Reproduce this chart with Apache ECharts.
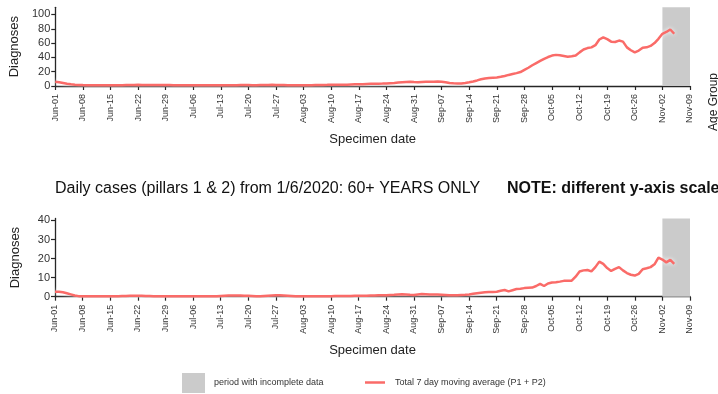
<!DOCTYPE html>
<html>
<head>
<meta charset="utf-8">
<script src="https://cdn.jsdelivr.net/npm/echarts@6/dist/echarts.min.js"></script>
<style>
  html, body { margin: 0; padding: 0; background: #fff; }
  #chart { width: 718px; height: 394px; }
</style>
</head>
<body>
<div id="chart"></div>
<script>
// Specimen dates shown on the axes: 1 June to 9 November 2020, one per day
const monthNames = ['Jan','Feb','Mar','Apr','May','Jun','Jul','Aug','Sep','Oct','Nov','Dec'];
const categories = [];
for (let t = Date.UTC(2020, 5, 1); t <= Date.UTC(2020, 10, 9); t += 86400000) {
  const d = new Date(t);
  categories.push(monthNames[d.getUTCMonth()] + '-' + String(d.getUTCDate()).padStart(2, '0'));
}

// Total 7 day moving average (P1 + P2), all ages, 1 Jun - 5 Nov
const allAgesAvg = [
  // Jun
  6.0, 5.2, 4.2, 3.2, 2.4, 1.8, 1.5, 1.3, 1.2, 1.1, 1.1, 1.1, 1.2, 1.1, 1.0,
  1.0, 1.1, 1.2, 1.3, 1.4, 1.5, 1.6, 1.5, 1.4, 1.3, 1.3, 1.4, 1.5, 1.4, 1.3,
  // Jul
  1.2, 1.1, 1.0, 1.0, 1.1, 1.2, 1.1, 1.0, 0.9, 1.0, 1.1, 1.2, 1.2, 1.1, 1.0, 1.1,
  1.2, 1.3, 1.4, 1.3, 1.2, 1.2, 1.3, 1.4, 1.5, 1.6, 1.5, 1.4, 1.3, 1.2, 1.1,
  // Aug
  1.0, 0.9, 0.9, 1.0, 1.1, 1.3, 1.4, 1.5, 1.6, 1.8, 1.7, 1.6, 1.7, 1.9, 2.1, 2.3,
  2.4, 2.6, 2.8, 3.0, 3.2, 3.3, 3.4, 3.6, 4.0, 4.3, 4.8, 5.2, 5.6, 5.8, 5.5,
  // Sep
  5.3, 5.6, 5.8, 6.0, 6.1, 6.2, 6.0, 5.3, 4.3, 3.7, 3.4, 3.5, 4.2, 5.2, 6.3,
  7.8, 9.4, 10.5, 11.2, 11.6, 12.0, 12.8, 14.0, 15.5, 16.8, 18.0, 19.5, 22.5, 25.5, 29.0,
  // Oct
  32, 35, 38, 40.5, 42.5, 43.5, 43, 42, 41, 41.5, 42.5, 47, 51, 53, 54, 57,
  65, 68, 65.5, 62, 61.5, 63.5, 62, 54, 50, 47, 49.5, 53.5, 54, 56, 60,
  // Nov
  66, 73, 75.5, 79, 73
];

// Total 7 day moving average (P1 + P2), 60+ years only, 1 Jun - 5 Nov
const over60Avg = [
  // Jun
  2.6, 2.6, 2.3, 1.8, 1.2, 0.6, 0.3, 0.2, 0.2, 0.2, 0.2, 0.2, 0.2, 0.3, 0.3,
  0.3, 0.3, 0.4, 0.4, 0.5, 0.5, 0.5, 0.5, 0.4, 0.4, 0.3, 0.3, 0.3, 0.3, 0.2,
  // Jul
  0.2, 0.2, 0.2, 0.2, 0.2, 0.2, 0.2, 0.2, 0.2, 0.2, 0.2, 0.3, 0.4, 0.5, 0.6, 0.6,
  0.6, 0.6, 0.5, 0.5, 0.4, 0.3, 0.3, 0.4, 0.5, 0.6, 0.7, 0.7, 0.6, 0.5, 0.4,
  // Aug
  0.3, 0.2, 0.2, 0.2, 0.2, 0.2, 0.3, 0.3, 0.3, 0.3, 0.4, 0.4, 0.4, 0.4, 0.4, 0.5,
  0.5, 0.5, 0.5, 0.6, 0.6, 0.7, 0.7, 0.8, 0.9, 1.0, 1.2, 1.3, 1.2, 1.0, 0.9,
  // Sep
  1.2, 1.4, 1.3, 1.2, 1.2, 1.1, 1.0, 0.9, 0.8, 0.7, 0.8, 0.9, 1.0, 1.2, 1.5,
  1.8, 2.1, 2.3, 2.4, 2.5, 2.6, 3.1, 3.5, 2.8, 3.4, 4.0, 4.2, 4.5, 4.7, 4.8,
  // Oct
  5.6, 6.7, 5.6, 6.9, 7.4, 7.6, 7.9, 8.3, 8.4, 8.4, 10.5, 13.2, 13.8, 14.0, 13.3, 15.5,
  18.4, 17.2, 15.0, 13.5, 14.6, 15.5, 13.8, 12.4, 11.5, 11.1, 12.0, 14.4, 14.9, 15.5, 17.0,
  // Nov
  20.5, 19.5, 18.0, 19.3, 17.2
];

// Window where recent specimens are still being reported
const incompleteStart = 'Nov-02';
const incompleteEnd = 'Nov-09';

// Y axis tick labels
const yTicksAll = [0, 20, 40, 60, 80, 100];
const yTicks60 = [0, 10, 20, 30, 40];

const FONT = 'Liberation Sans, Arial, sans-serif';
const LINE_COLOR = '#fa6b68';
const GREY = '#cbcbcb';
const AXIS_COLOR = '#262626';
const AREA_NAME = 'period with incomplete data';
const LINE_NAME = 'Total 7 day moving average (P1 + P2)';

function xAxisFor(gridIndex) {
  return {
    type: 'category',
    gridIndex,
    data: categories,
    boundaryGap: false,
    axisLine: { lineStyle: { color: AXIS_COLOR, width: 1.3 } },
    axisTick: { interval: 6, length: 4, lineStyle: { color: AXIS_COLOR, width: 1.2 } },
    axisLabel: { interval: 6, rotate: 90, fontSize: 9, color: '#333', margin: 8, fontFamily: FONT },
    splitLine: { show: false },
    name: 'Specimen date',
    nameLocation: 'middle',
    nameGap: 47,
    nameTextStyle: { fontSize: 13, color: '#222', fontFamily: FONT }
  };
}

function yAxisFor(gridIndex, max, ticks) {
  return {
    type: 'value',
    gridIndex,
    min: 0,
    max,
    axisLine: { show: true, lineStyle: { color: AXIS_COLOR, width: 1.3 } },
    axisTick: { show: true, length: 4, customValues: ticks, lineStyle: { color: AXIS_COLOR, width: 1.2 } },
    axisLabel: { customValues: ticks, fontSize: 11, color: '#333', margin: 5, fontFamily: FONT },
    splitLine: { show: false },
    name: 'Diagnoses',
    nameLocation: 'middle',
    nameRotate: 90,
    nameGap: 33,
    nameTextStyle: { fontSize: 13, color: '#222', fontFamily: FONT }
  };
}

function areaSeries(idx) {
  return {
    name: AREA_NAME,
    type: 'line',
    xAxisIndex: idx,
    yAxisIndex: idx,
    data: [],
    itemStyle: { color: GREY },
    markArea: {
      silent: true,
      itemStyle: { color: GREY },
      data: [[{ xAxis: incompleteStart }, { xAxis: incompleteEnd }]]
    }
  };
}

function lineSeries(idx, values) {
  return {
    name: LINE_NAME,
    type: 'line',
    xAxisIndex: idx,
    yAxisIndex: idx,
    data: values,
    symbol: 'none',
    smooth: false,
    color: LINE_COLOR,
    lineStyle: {
      color: LINE_COLOR,
      width: 2.5,
      shadowColor: 'rgba(255,255,255,0.95)',
      shadowBlur: 4
    }
  };
}

const chart = echarts.init(document.getElementById('chart'), null, { renderer: 'canvas' });
chart.setOption({
  animation: false,
  backgroundColor: '#fff',
  textStyle: { fontFamily: FONT },
  grid: [
    { left: 55, right: 28, top: 7.3, height: 78.7 },
    { left: 55, right: 28, top: 218.5, height: 78.2 }
  ],
  title: [
    {
      text: 'Daily cases (pillars 1 & 2) from 1/6/2020: 60+ YEARS ONLY',
      left: 55, top: 181, padding: 0,
      textStyle: { fontSize: 16, fontWeight: 'normal', color: '#111', fontFamily: FONT }
    },
    {
      text: 'NOTE: different y-axis scale',
      left: 507, top: 181, padding: 0,
      textStyle: { fontSize: 16, fontWeight: 'bold', color: '#111', fontFamily: FONT }
    }
  ],
  graphic: [
    {
      type: 'text',
      x: 714, y: 131,
      rotation: Math.PI / 2,
      style: { text: 'Age Group', font: '12px ' + FONT, fill: '#222', textAlign: 'left', textVerticalAlign: 'middle' }
    }
  ],
  legend: [
    {
      data: [{ name: AREA_NAME, icon: 'rect' }],
      left: 182, top: 373, padding: 0,
      itemWidth: 23, itemHeight: 20,
      selectedMode: false,
      textStyle: { fontSize: 9, color: '#333', fontFamily: FONT, padding: [0, 0, 0, 4] }
    },
    {
      data: [{ name: LINE_NAME, icon: 'rect', itemStyle: { color: LINE_COLOR } }],
      left: 365, top: 378, padding: 0,
      itemWidth: 20, itemHeight: 2.5,
      selectedMode: false,
      textStyle: { fontSize: 9, color: '#333', fontFamily: FONT, padding: [0, 0, 0, 5] }
    }
  ],
  xAxis: [xAxisFor(0), xAxisFor(1)],
  yAxis: [yAxisFor(0, 110, yTicksAll), yAxisFor(1, 41, yTicks60)],
  series: [
    areaSeries(0),
    areaSeries(1),
    lineSeries(0, allAgesAvg),
    lineSeries(1, over60Avg)
  ]
});
</script>
</body>
</html>
